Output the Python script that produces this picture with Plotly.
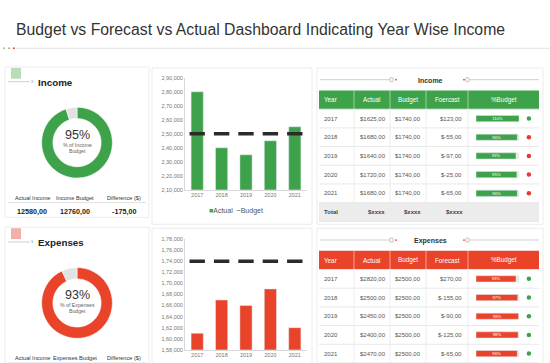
import plotly.graph_objects as go

W, H = 550, 363
def X(p): return p / W
def Y(p): return 1 - p / H

FONT = "Liberation Sans, Arial, sans-serif"
GREEN = "#3da24a"
RED = "#e9432a"
GREY_SLICE = "#e2e2e2"
BORDER = "#e4e4e4"

# ---------------- data ----------------
title_text = "Budget vs Forecast vs Actual Dashboard Indicating Year Wise Income"
years = ["2017", "2018", "2019", "2020", "2021"]

income_actual = [280000, 240000, 235000, 245000, 255000]
income_budget = [250000, 250000, 250000, 250000, 250000]
income_ticks = [210000, 220000, 230000, 240000, 250000, 260000, 270000, 280000, 290000]
income_ticklabels = ["2,10,000", "2,20,000", "2,30,000", "2,40,000", "2,50,000",
                     "2,60,000", "2,70,000", "2,80,000", "2,90,000"]

expense_actual = [161000, 167000, 166000, 169000, 162000]
expense_budget = [174000, 174000, 174000, 174000, 174000]
expense_ticks = [158000, 160000, 162000, 164000, 166000, 168000, 170000, 172000, 174000, 176000, 178000]
expense_ticklabels = ["1,58,000", "1,60,000", "1,62,000", "1,64,000", "1,66,000", "1,68,000",
                      "1,70,000", "1,72,000", "1,74,000", "1,76,000", "1,78,000"]

income_share = [95, 5]
expense_share = [93, 7]

income_summary_labels = ["Actual Income", "Income Budget", "Difference ($)"]
income_summary_values = ["12580,00", "12760,00", "-175,00"]
expense_summary_labels = ["Actual Income", "Expenses Budget", "Difference ($)"]

income_header = ["Year", "Actual", "Budget", "Foercast", "%Budget"]
income_tbl_actual = ["$1625,00", "$1680,00", "$1640,00", "$1720,00", "$1680,00"]
income_tbl_budget = ["$1740,00", "$1740,00", "$1740,00", "$1740,00", "$1740,00"]
income_tbl_forecast = ["$123,00", "$-55,00", "$-97,00", "$-25,00", "$-65,00"]
income_tbl_pct = [110, 96, 93, 95, 96]
income_tbl_status = [True, False, False, False, False]
income_total = ["Total", "$xxxx", "$xxxx", "$xxxx"]

expense_header = ["Year", "Actual", "Budget", "Forecast", "%Budget"]
expense_tbl_actual = ["$2820,00", "$2500,00", "$2450,00", "$2400,00", "$2470,00"]
expense_tbl_budget = ["$2500,00", "$2500,00", "$2500,00", "$2500,00", "$2500,00"]
expense_tbl_forecast = ["$270,00", "$-155,00", "$-90,00", "$-125,00", "$-65,00"]
expense_tbl_pct = [93, 97, 99, 98, 96]
expense_tbl_status = [True, True, True, True, True]

# ---------------- figure ----------------
fig = go.Figure()
shapes = []
annotations = []

def txt(x, y, s, size=6, color="#555", anchor="center", bold=False):
    annotations.append(dict(
        x=X(x), y=Y(y), xref="paper", yref="paper", text=(f"<b>{s}</b>" if bold else s),
        showarrow=False, xanchor=anchor, yanchor="middle",
        font=dict(family=FONT, size=size, color=color), borderpad=0))

def rect(x0, y0, x1, y1, fill=None, line=None, lw=1, layer="below"):
    shapes.append(dict(type="rect", xref="paper", yref="paper",
                       x0=X(x0), x1=X(x1), y0=Y(y1), y1=Y(y0),
                       fillcolor=fill or "rgba(0,0,0,0)",
                       line=dict(color=line or "rgba(0,0,0,0)", width=lw if line else 0),
                       layer=layer))

def hline(x0, x1, y, color=BORDER, lw=1):
    shapes.append(dict(type="line", xref="paper", yref="paper", x0=X(x0), x1=X(x1),
                       y0=Y(y), y1=Y(y), line=dict(color=color, width=lw), layer="below"))

def vline(x, y0, y1, color=BORDER, lw=1):
    shapes.append(dict(type="line", xref="paper", yref="paper", x0=X(x), x1=X(x),
                       y0=Y(y0), y1=Y(y1), line=dict(color=color, width=lw), layer="below"))

def dot(x, y, r, color):
    shapes.append(dict(type="circle", xref="paper", yref="paper", x0=X(x - r), x1=X(x + r),
                       y0=Y(y + r), y1=Y(y - r), fillcolor=color, line=dict(width=0)))

# title
txt(15, 27, title_text, size=15.8, color="#333", anchor="left")
hline(16, 550, 46, color="#e2e2e2")
dot(4, 46, 1, "#9bbf9f"); dot(9, 46, 1, "#aaaaaa"); dot(14, 46, 1, "#e9432a")

# panel boxes
for top, bottom in [(65, 218), (228, 380)]:
    rect(5, top, 149, bottom, line="#ececec")
    rect(152, top + 1, 312, bottom + 7, line="#ececec")
    rect(317, top + 1, 543, bottom + 7, line="#ececec")

# ---------------- left KPI panels ----------------
def kpi_panel(top, name, color, icon_color, share, pct_label, sub1, labels, values):
    rect(11, top + 1, 21, top + 12, fill=icon_color)
    hline(8, 30, top + 15, color="#cfcfcf")
    txt(32, top + 15, "›", size=7, color="#999")
    txt(37, top + 16, name, size=9.8, color="#222", anchor="left", bold=True)
    cy = top + 77
    fig.add_trace(go.Pie(values=share, hole=0.68, sort=False, direction="clockwise",
                         marker=dict(colors=[color, GREY_SLICE], line=dict(color="white", width=0.6)),
                         textinfo="none", hoverinfo="skip", showlegend=False,
                         domain=dict(x=[X(77 - 36), X(77 + 36)], y=[Y(cy + 36), Y(cy - 36)])))
    txt(77, cy - 8, pct_label, size=12.5, color="#333")
    txt(77, cy + 2.5, sub1, size=5.2, color="#666")
    txt(77, cy + 8.5, "Budget", size=5.2, color="#666")
    xs = [32, 75, 124]
    for x, lab in zip(xs, labels):
        txt(x, top + 133, lab, size=5.6, color="#333")
    hline(8, 146, top + 138, color="#e0e0e0")
    for x, val in zip(xs, values):
        txt(x, top + 147, val, size=7.2, color="#222", bold=True)

kpi_panel(65, "Income", GREEN, "#b9dcb9", income_share, f"{income_share[0]}%",
          "% of Income", income_summary_labels, income_summary_values)
kpi_panel(228, "Expenses", RED, "#f2b1a8", expense_share, f"{expense_share[0]}%",
          "% of Expenses", expense_summary_labels, [])

# ---------------- bar charts ----------------
dash_marker = dict(symbol="line-ew", size=11, line=dict(width=3.5, color="#2b2b2b"))
fig.add_trace(go.Bar(x=years, y=income_actual, marker_color=GREEN, width=0.5,
                     name="Actual", showlegend=False, xaxis="x", yaxis="y", hoverinfo="skip"))
fig.add_trace(go.Scatter(x=years, y=income_budget, mode="markers", name="Budget", showlegend=False,
                         marker=dash_marker, xaxis="x", yaxis="y", hoverinfo="skip"))
fig.add_trace(go.Bar(x=years, y=expense_actual, marker_color=RED, width=0.5,
                     name="Actual", showlegend=False, xaxis="x2", yaxis="y2", hoverinfo="skip"))
fig.add_trace(go.Scatter(x=years, y=expense_budget, mode="markers", name="Budget", showlegend=False,
                         marker=dash_marker, xaxis="x2", yaxis="y2", hoverinfo="skip"))

txt(236, 211, f'<span style="color:{GREEN}">■</span>Actual  <span style="color:#333">−</span>Budget',
    size=7, color="#555")

# ---------------- tables ----------------
COLS = [319, 354, 390, 426, 468, 539]
ROW_H = 19

def table(top, title, color, header, actual, budget, forecast, pct, status, total, axis_id):
    ty = top + 14
    hline(320, 390, ty - 1, color="#d0d0d0")
    rect(390, ty - 3, 393, ty + 1, line="#c8c8c8")
    dot(396, ty - 1, 0.9, "#e9432a")
    dot(464, ty - 1, 0.9, "#e9432a")
    rect(466, ty - 3, 469, ty + 1, line="#c8c8c8")
    hline(469, 539, ty - 1, color="#d0d0d0")
    txt(430, ty, title, size=7, color="#333", bold=True)
    h0 = top + 24
    rect(COLS[0], h0, COLS[-1], h0 + ROW_H, fill=color)
    for c in COLS[1:-1]:
        vline(c, h0, h0 + ROW_H, color="rgba(255,255,255,0.5)")
    txt(COLS[0] + 4, h0 + ROW_H / 2, header[0], size=6.3, color="white", anchor="left")
    for i in range(1, 5):
        txt((COLS[i] + COLS[i + 1]) / 2, h0 + ROW_H / 2, header[i], size=6.3, color="white")
    b0 = h0 + ROW_H
    nrows = len(actual) + (1 if total else 0)
    if total:
        rect(COLS[0], b0 + 5 * ROW_H, COLS[-1], b0 + 6 * ROW_H, fill="#ececec")
    for r in range(nrows + 1):
        hline(COLS[0], COLS[-1], b0 + r * ROW_H, color="#e8e8e8")
    for c in COLS[1:-1]:
        vline(c, b0, b0 + nrows * ROW_H, color="#ececec")
    for r in range(len(actual)):
        yc = b0 + r * ROW_H + ROW_H / 2
        txt(COLS[0] + 4, yc, years[r], size=6, color="#555", anchor="left")
        txt(COLS[2] - 3, yc, actual[r], size=6, color="#555", anchor="right")
        txt(COLS[3] - 4, yc, budget[r], size=6, color="#555", anchor="right")
        txt(COLS[4] - 5, yc, forecast[r], size=6, color="#555", anchor="right")
    if total:
        yc = b0 + 5 * ROW_H + ROW_H / 2
        txt(COLS[0] + 4, yc, total[0], size=6, color="#444", anchor="left", bold=True)
        for j, c in enumerate([COLS[2] - 4, COLS[3] - 4, COLS[4] - 4]):
            txt(c, yc, total[j + 1], size=6, color="#444", anchor="right", bold=True)
    rows = list(range(len(pct)))
    xa, ya = f"x{axis_id}", f"y{axis_id}"
    fig.add_trace(go.Bar(x=[100] * len(pct), y=rows, orientation="h", width=0.33,
                         marker_color="#e6e6e6", showlegend=False, hoverinfo="skip",
                         xaxis=xa, yaxis=ya))
    fig.add_trace(go.Bar(x=[min(p, 100) for p in pct], y=rows, orientation="h", width=0.33,
                         marker_color=color, text=[f"{p}%" for p in pct],
                         textposition="inside", insidetextanchor="middle", constraintext="none",
                         textfont=dict(family=FONT, size=4.2, color="white"),
                         showlegend=False, hoverinfo="skip", xaxis=xa, yaxis=ya))
    fig.add_trace(go.Scatter(x=[123] * len(pct), y=rows, mode="markers",
                             marker=dict(size=4.5, color=[GREEN if s else "#e53935" for s in status]),
                             showlegend=False, hoverinfo="skip", xaxis=xa, yaxis=ya))
    return b0

b_inc = table(65, "Income", GREEN, income_header, income_tbl_actual, income_tbl_budget,
              income_tbl_forecast, income_tbl_pct, income_tbl_status, income_total, 3)
b_exp = table(228, "Expenses", RED, expense_header, expense_tbl_actual, expense_tbl_budget,
              expense_tbl_forecast, expense_tbl_pct, expense_tbl_status, None, 4)

axis_common = dict(showgrid=False, zeroline=False, showline=True, linecolor="#d9d9d9",
                   ticks="", tickfont=dict(family=FONT, size=5.5, color="#777"), fixedrange=True)
hidden = dict(visible=False, fixedrange=True)

exp_bottom_units = -0.5 + (H - b_exp) / ROW_H

fig.update_layout(
    width=W, height=H, margin=dict(l=0, r=0, t=0, b=0),
    paper_bgcolor="white", plot_bgcolor="rgba(0,0,0,0)",
    font=dict(family=FONT), barmode="overlay", showlegend=False,
    xaxis=dict(domain=[X(185), X(307)], anchor="y", range=[-0.5, 4.5], **axis_common),
    yaxis=dict(domain=[Y(190), Y(76)], anchor="x", range=[210000, 290000],
               tickvals=income_ticks, ticktext=income_ticklabels, **axis_common),
    xaxis2=dict(domain=[X(185), X(307)], anchor="y2", range=[-0.5, 4.5], **axis_common),
    yaxis2=dict(domain=[Y(352.7), Y(240)], anchor="x2", range=[158000, 178000],
                tickvals=expense_ticks, ticktext=expense_ticklabels, **axis_common),
    xaxis3=dict(domain=[X(476), X(539)], anchor="y3", range=[0, 146.5], **hidden),
    yaxis3=dict(domain=[Y(b_inc + 5 * ROW_H), Y(b_inc)], anchor="x3", range=[4.5, -0.5], **hidden),
    xaxis4=dict(domain=[X(476), X(539)], anchor="y4", range=[0, 146.5], **hidden),
    yaxis4=dict(domain=[0, Y(b_exp)], anchor="x4", range=[exp_bottom_units, -0.5], **hidden),
    shapes=shapes, annotations=annotations,
)

fig.write_html("out.html", config={"displayModeBar": False},
               post_script="document.body.style.margin='0px';")
